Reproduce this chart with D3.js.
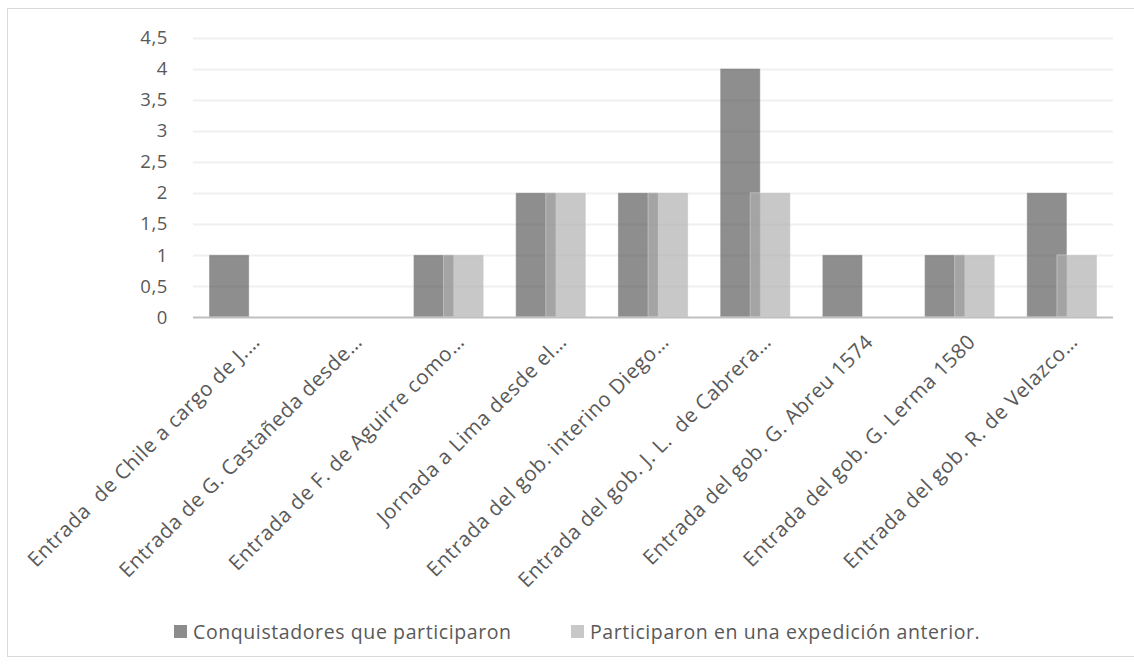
<!DOCTYPE html>
<html><head><meta charset="utf-8">
<script src="https://cdn.jsdelivr.net/npm/d3@7"></script>
<style>body{margin:0;background:#fff}svg{display:block}</style>
</head><body>
<script>
const categories = [
  "Entrada  de Chile a cargo de J.…",
  "Entrada de G. Castañeda desde…",
  "Entrada de F. de Aguirre como…",
  "Jornada a Lima desde el…",
  "Entrada del gob. interino Diego…",
  "Entrada del gob. J. L.  de Cabrera…",
  "Entrada del gob. G. Abreu 1574",
  "Entrada del gob. G. Lerma 1580",
  "Entrada del gob. R. de Velazco…"
];
const seriesNames = ["Conquistadores que participaron", "Participaron en una expedición anterior."];
const conquistadores = [1, 0, 1, 2, 2, 4, 1, 1, 2];
const anterior = [0, 0, 1, 2, 2, 2, 0, 1, 1];
const yTicks = [0, 0.5, 1, 1.5, 2, 2.5, 3, 3.5, 4, 4.5];

const W = 1134, H = 664;
const FONT = "'Open Sans', sans-serif";
const FS = "19.5px", LS = "0.6px";
const TXT = "#595959";
const svg = d3.select("body").append("svg").attr("width", W).attr("height", H);

// chart frame
svg.append("rect").attr("x", 7.5).attr("y", 8.5).attr("width", 1140).attr("height", 648)
  .attr("fill", "#fff").attr("stroke", "#d9d9d9").attr("stroke-width", 1);

const x = d3.scaleBand().domain(categories).range([193, 1113]).padding(0);
const y = d3.scaleLinear().domain([0, 4.5]).range([317, 37.5]);

// gridlines
svg.append("g").selectAll("line").data(yTicks.slice(1)).join("line")
  .attr("x1", 193).attr("x2", 1113)
  .attr("y1", d => Math.round(y(d)) + 0.5).attr("y2", d => Math.round(y(d)) + 0.5)
  .attr("stroke", "#f0f0f0").attr("stroke-width", 2);

// y tick labels
svg.append("g").selectAll("text").data(yTicks).join("text")
  .attr("x", 168).attr("y", d => y(d)).attr("dy", "0.36em")
  .attr("text-anchor", "end").attr("fill", TXT)
  .style("font-family", FONT).style("font-size", "18.5px").style("letter-spacing", LS)
  .text(d => String(d).replace(".", ","));

const step = x.step();
const barW = step * 0.392;
const overlap = barW * 0.25;
const groupW = 2 * barW - overlap;
const x0 = d => x(d) + step / 2 - groupW / 2;

const g = svg.append("g");
// series 1 (dark)
g.selectAll("rect.s1").data(categories).join("rect").attr("class", "s1")
  .attr("x", (d) => x0(d)).attr("width", barW)
  .attr("y", (d, i) => y(conquistadores[i])).attr("height", (d, i) => y(0) - y(conquistadores[i]))
  .attr("fill", "rgb(60,60,60)").attr("fill-opacity", 0.58)
  .attr("stroke", "#fff").attr("stroke-opacity", 0.35).attr("stroke-width", 1);
// series 2 (light, drawn on top)
g.selectAll("rect.s2").data(categories).join("rect").attr("class", "s2")
  .attr("x", (d) => x0(d) + barW - overlap).attr("width", barW)
  .attr("y", (d, i) => y(anterior[i])).attr("height", (d, i) => y(0) - y(anterior[i]))
  .attr("fill", "rgb(174,174,174)").attr("fill-opacity", 0.68)
  .attr("stroke", "#fff").attr("stroke-opacity", 0.35).attr("stroke-width", 1);

// x axis line
svg.append("line").attr("x1", 193).attr("x2", 1113).attr("y1", 317.5).attr("y2", 317.5)
  .attr("stroke", "#bfbfbf").attr("stroke-width", 2);

// category labels
svg.append("g").selectAll("text").data(categories).join("text")
  .attr("transform", d => `translate(${x(d) + step / 2 + 7},${333}) rotate(-45)`)
  .attr("text-anchor", "end").attr("dy", "0.7em").attr("fill", TXT)
  .style("white-space", "pre")
  .style("font-family", FONT).style("font-size", "20.5px").style("letter-spacing", LS)
  .text(d => d);

// legend
const legendX = [174, 571];
const legendColors = ["#8c8c8c", "#c8c8c8"];
const lg = svg.append("g").selectAll("g").data(seriesNames).join("g")
  .attr("transform", (d, i) => `translate(${legendX[i]},625)`);
lg.append("rect").attr("width", 13).attr("height", 13).attr("fill", (d, i) => legendColors[i]);
lg.append("text").attr("x", 19).attr("y", 6.5).attr("dy", "0.36em").attr("fill", TXT)
  .style("font-family", FONT).style("font-size", FS).style("letter-spacing", LS).text(d => d);
</script>
</body></html>
